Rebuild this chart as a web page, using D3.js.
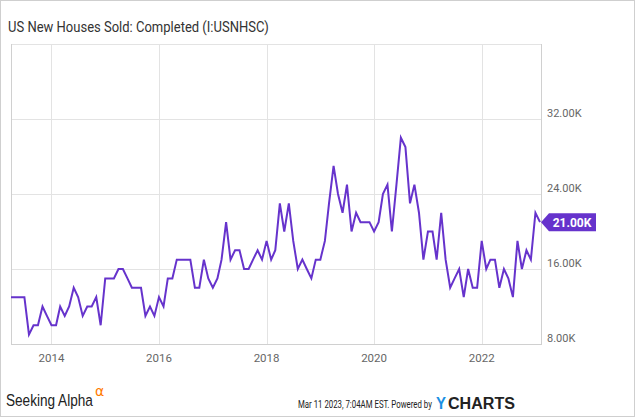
<!DOCTYPE html>
<html>
<head>
<meta charset="utf-8">
<script src="https://cdn.jsdelivr.net/npm/d3@7"></script>
<style>
  html, body { margin: 0; padding: 0; background: #fff; }
  svg { display: block; }
</style>
</head>
<body>
<svg id="chart" width="635" height="417"></svg>
<script>
// ---- Data (thousands of houses, monthly) ----
const startMonth = "2013-04";
const values = [
  13, 13, 13, 13, 9, 10, 10, 12, 11,                 // 2013 Apr-Dec
  10, 10, 12, 11, 12, 14, 13, 11, 12, 12, 13, 10,    // 2014
  15, 15, 15, 16, 16, 15, 14, 14, 14, 11, 12, 11,    // 2015
  13, 12, 15, 15, 17, 17, 17, 17, 14, 14, 17, 15,    // 2016
  14, 15, 17, 21, 17, 18, 18, 16, 16, 17, 18, 17,    // 2017
  19, 17, 18, 23, 20, 23, 19, 16, 17, 16, 15, 17,    // 2018
  17, 19, 23, 27, 24, 22, 25, 20, 22, 21, 21, 21,    // 2019
  20, 21, 24, 25, 20, 25, 30, 29, 23, 25, 22, 17,    // 2020
  20, 20, 17, 22, 17, 14, 15, 16, 13, 16, 14, 14,    // 2021
  19, 16, 17, 17, 14, 16, 15, 13, 19, 16, 18, 17,    // 2022
  22, 21                                             // 2023 Jan-Feb
];
const yTicks = [8, 16, 24, 32];
const xTickYears = [2014, 2016, 2018, 2020, 2022];
const titleText = "US New Houses Sold: Completed (I:USNHSC)";
const footerDate = "Mar 11 2023, 7:04AM EST.  Powered by";

// ---- Build dated series ----
const parse = d3.timeParse("%Y-%m");
const t0 = parse(startMonth);
const data = values.map((v, i) => ({ date: d3.timeMonth.offset(t0, i), value: v }));

const svg = d3.select("#chart");
const W = 635, H = 417;
const plot = { left: 11, right: 541, top: 44, bottom: 344 };
const lineColor = "#6633cc";
const gridColor = "#e3e3e3";

// helper: place text at (x, y) and horizontally scale it to a target width
function fitText(sel, x0, y0, target) {
  const natural = sel.node().getComputedTextLength();
  const k = natural > 0 ? target / natural : 1;
  sel.attr("x", 0).attr("y", 0)
     .attr("transform", `translate(${x0},${y0}) scale(${k},1)`);
  return sel;
}

// outer frame
svg.append("rect").attr("x", 0.5).attr("y", 0.5).attr("width", W - 1).attr("height", H - 1)
  .attr("fill", "#fff").attr("stroke", "#cfcfcf");

const x = d3.scaleTime()
  .domain([data[0].date, data[data.length - 1].date])
  .range([plot.left, 540]);
const y = d3.scaleLinear().domain([8, 40]).range([plot.bottom, plot.top]);

// horizontal grid
svg.append("g").selectAll("line").data(yTicks.concat([40])).join("line")
  .attr("x1", plot.left).attr("x2", plot.right)
  .attr("y1", d => Math.round(y(d)) + 0.5).attr("y2", d => Math.round(y(d)) + 0.5)
  .attr("stroke", gridColor).attr("stroke-width", 1);

// vertical grid
svg.append("g").selectAll("line").data(xTickYears).join("line")
  .attr("x1", d => Math.round(x(new Date(d, 0, 1))) + 0.5)
  .attr("x2", d => Math.round(x(new Date(d, 0, 1))) + 0.5)
  .attr("y1", plot.top).attr("y2", plot.bottom)
  .attr("stroke", gridColor).attr("stroke-width", 1);

// axis frame lines
svg.append("line").attr("x1", plot.left + 0.5).attr("x2", plot.left + 0.5)
  .attr("y1", plot.top).attr("y2", plot.bottom + 1).attr("stroke", "#d0d0d0");
svg.append("line").attr("x1", plot.right + 0.5).attr("x2", plot.right + 0.5)
  .attr("y1", plot.top).attr("y2", plot.bottom + 1).attr("stroke", "#d0d0d0");
svg.append("line").attr("x1", plot.left).attr("x2", plot.right + 1)
  .attr("y1", plot.bottom + 0.5).attr("y2", plot.bottom + 0.5).attr("stroke", "#d0d0d0");

// x labels
svg.append("g").selectAll("text").data(xTickYears).join("text")
  .attr("x", d => x(new Date(d, 0, 1)))
  .attr("y", 362)
  .attr("text-anchor", "middle")
  .attr("font-family", "Roboto, 'Noto Sans', sans-serif")
  .attr("font-size", 11.5)
  .attr("fill", "#666")
  .text(d => d);

// y labels
svg.append("g").selectAll("text").data(yTicks).join("text")
  .attr("x", 547)
  .attr("y", d => y(d) - 2)
  .attr("font-family", "Roboto, 'Noto Sans', sans-serif")
  .attr("font-size", 11)
  .attr("fill", "#666")
  .text(d => d3.format(".2f")(d) + "K");

// line
const line = d3.line().x(d => x(d.date)).y(d => y(d.value));
svg.append("path").datum(data)
  .attr("d", line)
  .attr("fill", "none")
  .attr("stroke", lineColor)
  .attr("stroke-width", 2)
  .attr("stroke-linejoin", "miter");

// last value badge
const last = data[data.length - 1];
const by = y(last.value);
const bx = plot.right;
svg.append("path")
  .attr("d", `M${bx},${by} L${bx + 8},${by - 9} L${bx + 55},${by - 9} L${bx + 55},${by + 9} L${bx + 8},${by + 9} Z`)
  .attr("fill", lineColor);
svg.append("text")
  .attr("x", bx + 31).attr("y", by + 4.5)
  .attr("text-anchor", "middle")
  .attr("font-family", "Roboto, 'Noto Sans', sans-serif")
  .attr("font-weight", "bold")
  .attr("font-size", 12)
  .attr("fill", "#fff")
  .text(d3.format(".2f")(last.value) + "K");

// title
fitText(svg.append("text")
  .attr("font-family", "Roboto, 'Noto Sans', sans-serif")
  .attr("font-size", 15)
  .attr("fill", "#333")
  .text(titleText), 8, 31.5, 261);

// footer: Seeking Alpha
fitText(svg.append("text")
  .attr("font-family", "'Liberation Sans', Arial, sans-serif")
  .attr("font-size", 17)
  .attr("fill", "#222")
  .text("Seeking Alpha"), 6, 406, 87);
svg.append("text")
  .attr("x", 95).attr("y", 396)
  .attr("font-family", "'DejaVu Sans', sans-serif")
  .attr("font-size", 14)
  .attr("fill", "#ff7a00")
  .text("α");

// footer: timestamp and YCharts
fitText(svg.append("text")
  .attr("font-family", "Roboto, 'Liberation Sans', sans-serif")
  .attr("font-size", 11.5)
  .attr("fill", "#222")
  .text(footerDate), 298, 408, 134);
fitText(svg.append("text")
  .attr("font-family", "'Liberation Sans', Arial, sans-serif")
  .attr("font-size", 17)
  .attr("font-weight", "bold")
  .attr("fill", "#1b8fe3")
  .text("Y"), 436, 409, 10);
fitText(svg.append("text")
  .attr("font-family", "'Liberation Sans', Arial, sans-serif")
  .attr("font-size", 17)
  .attr("font-weight", "bold")
  .attr("fill", "#222")
  .text("CHARTS"), 448, 409, 67);
</script>
</body>
</html>
